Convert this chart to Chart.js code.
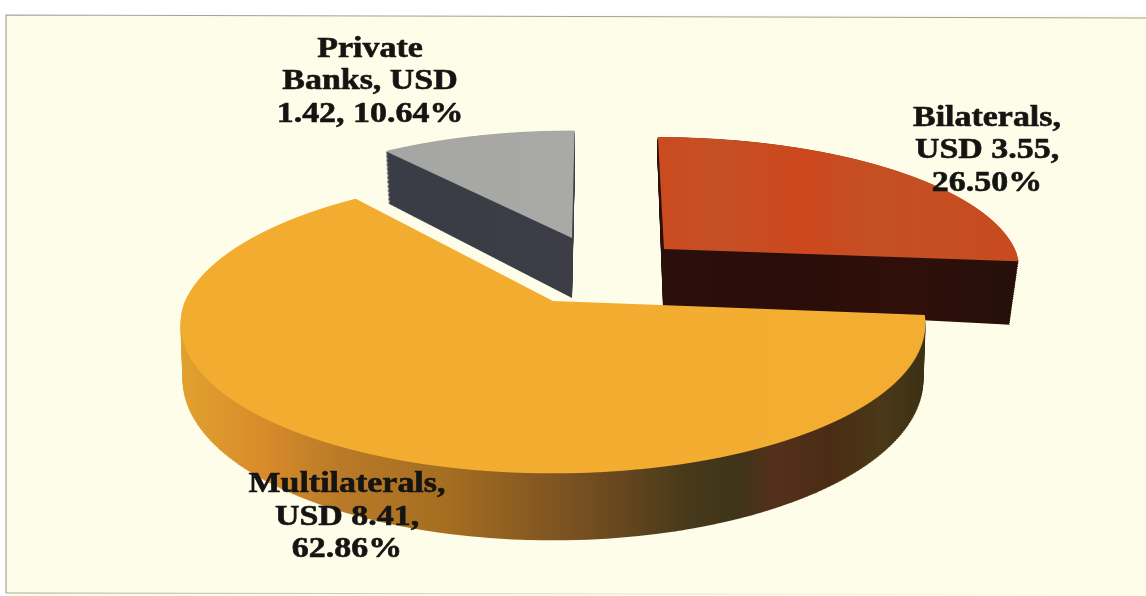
<!DOCTYPE html>
<html>
<head>
<meta charset="utf-8">
<style>
  html, body { margin: 0; padding: 0; background: #ffffff; }
  #wrap { position: relative; width: 1146px; height: 596px; }
</style>
<script src="https://cdn.jsdelivr.net/npm/chart.js@4/dist/chart.umd.js"></script>
</head>
<body>
<div id="wrap"><canvas id="pie" width="1146" height="596"></canvas></div>
<script>
// External debt by creditor group
const categories = ['Bilaterals', 'Multilaterals', 'Private Banks'];
const shares = [26.50, 62.86, 10.64];

const labelLines = [
  ['Bilaterals,', 'USD 3.55,', '26.50%'],
  ['Multilaterals,', 'USD 8.41,', '62.86%'],
  ['Private', 'Banks, USD', '1.42, 10.64%']
];

const topColors = ['#c94a1e', '#f2ac2f', '#a7a7a5'];

// Each slice: the plane of its top face and of its bottom face.
// cx, cy = apex on screen, rx, ry = radii, sx = sideways lean of the far half
const PERSPECTIVE = 0.153;
const slicePlanes = [
  { top: { cx: 664, cy: 249, rx: 351, ry: 129, sx: 7 },
    bottom: { cx: 663, cy: 307, rx: 343, ry: 185, sx: 7 } },
  { top: { cx: 553, cy: 301, rx: 368, ry: 146, sx: -9 },
    bottom: { cx: 553, cy: 355, rx: 366, ry: 157, sx: -9 } },
  { top: { cx: 572, cy: 238, rx: 341, ry: 124, sx: -3 },
    bottom: { cx: 572, cy: 298, rx: 336, ry: 135, sx: -3 } }
];

// Horizontal colour runs, as [screen x, colour]
const wallStops = [
  [[650, '#2b0f0a'], [800, '#2a0d08'], [900, '#300f0a'], [1020, '#26100a']],
  [[180, '#e0a12f'], [260, '#da8c2b'], [340, '#b97a28'], [450, '#a46d20'], [540, '#855822'],
   [620, '#67471e'], [690, '#46381a'], [740, '#3f3418'], [775, '#55301a'], [830, '#4a2c14'],
   [880, '#4a3818'], [930, '#3a3014']],
  [[380, '#3a3d45'], [575, '#3c3d46']]
];
const faceStops = [
  [[655, '#cc4a1f'], [720, '#c55026'], [800, '#cd471d'], [880, '#c45024'], [1020, '#c94a1f']],
  [[180, '#f2ac2f'], [930, '#f3ad30']],
  [[380, '#a5a5a3'], [575, '#a9a9a6']]
];

const DRAW_ORDER = [2, 0, 1];
const WALL_ROW_STEP = 2;
const WALL_LAYER_STEP = 1.5;

function lerpPlane(a, b, t) {
  const out = {};
  for (const k of Object.keys(a)) out[k] = a[k] + (b[k] - a[k]) * t;
  return out;
}

// Paints one slice through a perspective plane, one row of device pixels at a time,
// so the rows butt together without anti-aliased seams.
function paintSlice(ctx, chart, arc, plane, stops, rowStep) {
  const R = arc.outerRadius;
  const savedOptions = arc.options;
  const p = PERSPECTIVE;
  const yOf = (v) => plane.cy + plane.ry * v / (1 - p * v);
  const vOf = (y) => { const s = (y - plane.cy) / plane.ry; return s / (1 + p * s); };
  const top = Math.floor(yOf(-1));
  const end = Math.ceil(yOf(1));
  const first = stops[0][0], last = stops[stops.length - 1][0];

  for (let row = top; row < end; row += rowStep) {
    const v0 = vOf(row), v1 = vOf(row + rowStep), vm = (v0 + v1) / 2;
    const w = 1 - p * vm;
    const d = rowStep / ((v1 - v0) * R);
    const a = plane.rx / (R * w);
    const c = (vm < 0 ? plane.sx : 0) / (R * w);
    const e = plane.cx - a * arc.x - c * arc.y;
    const f = row - d * (arc.y + v0 * R);

    ctx.save();
    ctx.beginPath();
    ctx.rect(0, row, chart.width, rowStep);
    ctx.clip();
    ctx.transform(a, 0, c, d, e, f);

    const byMid = arc.y + vm * R;
    const toBase = (sx) => (sx - e - c * byMid) / a;
    const grad = ctx.createLinearGradient(toBase(first), 0, toBase(last), 0);
    for (const [x, col] of stops) grad.addColorStop((x - first) / (last - first), col);

    arc.options = {
      backgroundColor: grad, borderColor: 'transparent', borderWidth: 0,
      offset: 0, spacing: 0, circular: true, borderRadius: 0,
      borderAlign: 'center', borderDash: [], borderDashOffset: 0
    };
    arc.draw(ctx);
    ctx.restore();
  }
  arc.options = savedOptions;
}

const panelPlugin = {
  id: 'panel',
  beforeDraw(chart) {
    const { ctx, width, height } = chart;
    ctx.save();
    ctx.fillStyle = '#ffffff';
    ctx.fillRect(0, 0, width, height);
    ctx.fillStyle = '#fefde9';
    ctx.fillRect(6, 15, width - 6, 581);

    ctx.lineWidth = 1.2;
    ctx.strokeStyle = '#a2a29c';
    ctx.beginPath();
    ctx.moveTo(width, 18);
    ctx.lineTo(6, 15);
    ctx.lineTo(6, 593);
    ctx.stroke();

    const fade = ctx.createLinearGradient(6, 0, 1050, 0);
    fade.addColorStop(0, '#a8a8a2');
    fade.addColorStop(0.45, '#d8d8cc');
    fade.addColorStop(1, '#fefde9');
    ctx.strokeStyle = fade;
    ctx.beginPath();
    ctx.moveTo(6, 593);
    ctx.lineTo(1050, 594.5);
    ctx.stroke();
    ctx.restore();
  }
};

const slantedPiePlugin = {
  id: 'slantedPie',
  beforeDatasetsDraw(chart) {
    const { ctx } = chart;
    const arcs = chart.getDatasetMeta(0).data;
    for (const idx of DRAW_ORDER) {
      const planes = slicePlanes[idx];
      const span = planes.bottom.cy - planes.top.cy;
      for (let dist = span; dist > 0; dist -= WALL_LAYER_STEP) {
        paintSlice(ctx, chart, arcs[idx], lerpPlane(planes.top, planes.bottom, dist / span), wallStops[idx], WALL_ROW_STEP);
      }
      paintSlice(ctx, chart, arcs[idx], planes.top, faceStops[idx], 1);
    }
    return false;
  }
};

const LABEL_ANCHORS = [
  { x: 987, y: [126, 158, 191] },
  { x: 347, y: [492, 525, 557] },
  { x: 370, y: [57, 89, 122] }
];

const sliceLabelPlugin = {
  id: 'sliceLabels',
  afterDraw(chart) {
    const { ctx } = chart;
    labelLines.forEach((lines, i) => {
      lines.forEach((text, j) => {
        ctx.save();
        ctx.translate(LABEL_ANCHORS[i].x, LABEL_ANCHORS[i].y[j]);
        ctx.scale(1.17, 1);
        ctx.font = 'bold 29px "Liberation Serif", "Times New Roman", serif';
        ctx.fillStyle = '#141412';
        ctx.strokeStyle = '#141412';
        ctx.lineWidth = 0.6;
        ctx.lineJoin = 'round';
        ctx.textAlign = 'center';
        ctx.textBaseline = 'alphabetic';
        ctx.strokeText(text, 0, 0);
        ctx.fillText(text, 0, 0);
        ctx.restore();
      });
    });
  }
};

new Chart(document.getElementById('pie'), {
  type: 'pie',
  data: {
    labels: categories,
    datasets: [{ data: shares, backgroundColor: topColors, borderWidth: 0 }]
  },
  options: {
    responsive: false,
    animation: false,
    events: [],
    layout: { padding: 0 },
    plugins: { legend: { display: false }, tooltip: { enabled: false } }
  },
  plugins: [panelPlugin, slantedPiePlugin, sliceLabelPlugin]
});
</script>
</body>
</html>
